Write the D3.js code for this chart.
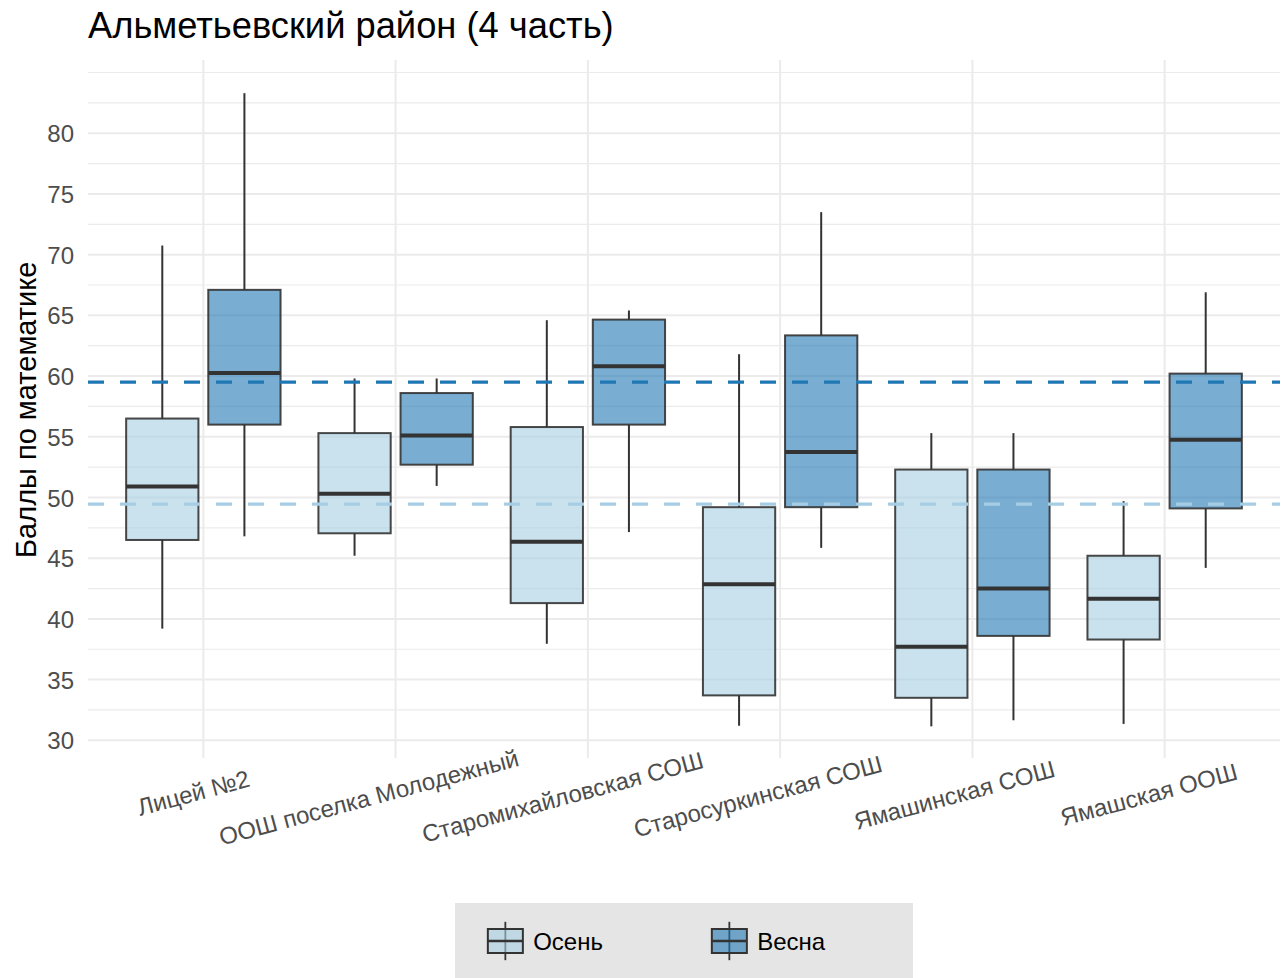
<!DOCTYPE html>
<html>
<head>
<meta charset="utf-8">
<script src="https://cdn.jsdelivr.net/npm/d3@7"></script>
<style>
  html, body { margin: 0; padding: 0; background: #ffffff; }
  svg { display: block; font-family: "Liberation Sans", Arial, sans-serif; }
</style>
</head>
<body>
<svg id="chart" width="1288" height="978"></svg>
<script>
// Schools and seasons
const schools = ["Лицей №2", "ООШ поселка Молодежный", "Старомихайловская СОШ",
                 "Старосуркинская СОШ", "Ямашинская СОШ", "Ямашская ООШ"];
const seasons = ["Осень", "Весна"];

// Box statistics per school: lower whisker, Q1, median, Q3, upper whisker
const autumnLow  = [39.2, 45.2, 37.95, 31.2, 31.15, 31.35];
const autumnQ1   = [46.5, 47.05, 41.3, 33.7, 33.5, 38.3];
const autumnMed  = [50.9, 50.3, 46.35, 42.85, 37.7, 41.65];
const autumnQ3   = [56.5, 55.3, 55.8, 49.2, 52.3, 45.2];
const autumnHigh = [70.75, 59.8, 64.6, 61.8, 55.3, 49.7];

const springLow  = [46.8, 50.95, 47.15, 45.85, 31.65, 44.2];
const springQ1   = [56.0, 52.7, 56.0, 49.2, 38.6, 49.1];
const springMed  = [60.25, 55.1, 60.8, 53.75, 42.5, 54.75];
const springQ3   = [67.1, 58.6, 64.65, 63.35, 52.3, 60.2];
const springHigh = [83.3, 59.8, 65.4, 73.5, 55.3, 66.9];

// District averages per season (dashed reference lines)
const seasonMeans = [49.45, 59.5];

// Y axis tick values
const yTicks = [30, 35, 40, 45, 50, 55, 60, 65, 70, 75, 80];

const fills = ["#a6cee3", "#1f78b4"];

const boxes = [];
schools.forEach((s, i) => {
  boxes.push({ school: s, season: seasons[0], low: autumnLow[i], q1: autumnQ1[i], med: autumnMed[i], q3: autumnQ3[i], high: autumnHigh[i] });
  boxes.push({ school: s, season: seasons[1], low: springLow[i], q1: springQ1[i], med: springMed[i], q3: springQ3[i], high: springHigh[i] });
});

const svg = d3.select("#chart");
const panel = { left: 88, right: 1280, top: 61.5, bottom: 758 };

// y domain: data range with 5% expansion on both sides
const ext = d3.extent(boxes.flatMap(b => [b.low, b.high]));
const pad = (ext[1] - ext[0]) * 0.05;
const y = d3.scaleLinear().domain([ext[0] - pad, ext[1] + pad]).range([panel.bottom, panel.top]);

const x = d3.scalePoint().domain(schools).range([panel.left, panel.right]).padding(0.6);
const step = x.step();
const inner = d3.scaleBand().domain(seasons)
  .range([-0.4015 * step, 0.4015 * step]).paddingInner(0.12).paddingOuter(0);
const color = d3.scaleOrdinal().domain(seasons).range(fills);

// Gridlines
const grid = svg.append("g");
const minorTicks = d3.range(27.5, 86, 2.5).filter(v => yTicks.indexOf(v) < 0 && y(v) >= panel.top && y(v) <= panel.bottom);
grid.selectAll("line.minor").data(minorTicks).join("line")
  .attr("x1", panel.left).attr("x2", panel.right)
  .attr("y1", d => y(d)).attr("y2", d => y(d))
  .attr("stroke", "#ebebeb").attr("stroke-width", 1.2);
grid.selectAll("line.major").data(yTicks).join("line")
  .attr("x1", panel.left).attr("x2", panel.right)
  .attr("y1", d => y(d)).attr("y2", d => y(d))
  .attr("stroke", "#ebebeb").attr("stroke-width", 2);
grid.selectAll("line.vert").data(schools).join("line")
  .attr("x1", d => x(d)).attr("x2", d => x(d))
  .attr("y1", 60).attr("y2", panel.bottom)
  .attr("stroke", "#ebebeb").attr("stroke-width", 2);

// Y axis labels
const yAxis = d3.axisLeft(y).tickValues(yTicks).tickSize(0).tickPadding(0).tickFormat(d3.format("d"));
const yg = svg.append("g").attr("transform", `translate(${panel.left - 14},0)`).call(yAxis);
yg.select(".domain").remove();
yg.selectAll("text").attr("fill", "#4d4d4d").attr("font-size", 24)
  .attr("font-family", "'Liberation Sans', Arial, sans-serif").attr("dy", "0.36em");

// Boxplots
const bg = svg.append("g");
const bw = inner.bandwidth();
const cx = d => x(d.school) + inner(d.season) + bw / 2;
const groups = bg.selectAll("g.box").data(boxes).join("g");
groups.append("line")
  .attr("x1", cx).attr("x2", cx).attr("y1", d => y(d.high)).attr("y2", d => y(d.q3))
  .attr("stroke", "#333").attr("stroke-width", 2);
groups.append("line")
  .attr("x1", cx).attr("x2", cx).attr("y1", d => y(d.q1)).attr("y2", d => y(d.low))
  .attr("stroke", "#333").attr("stroke-width", 2);
groups.append("rect")
  .attr("x", d => x(d.school) + inner(d.season)).attr("width", bw)
  .attr("y", d => y(d.q3)).attr("height", d => y(d.q1) - y(d.q3))
  .attr("fill", d => color(d.season)).attr("fill-opacity", 0.6)
  .attr("stroke", "#333").attr("stroke-opacity", 0.9).attr("stroke-width", 2);
groups.append("line")
  .attr("x1", d => x(d.school) + inner(d.season)).attr("x2", d => x(d.school) + inner(d.season) + bw)
  .attr("y1", d => y(d.med)).attr("y2", d => y(d.med))
  .attr("stroke", "#333").attr("stroke-width", 4);

// Season mean lines
svg.append("g").selectAll("line").data(seasons).join("line")
  .attr("x1", panel.left).attr("x2", panel.right)
  .attr("y1", (d, i) => y(seasonMeans[i])).attr("y2", (d, i) => y(seasonMeans[i]))
  .attr("stroke", d => color(d)).attr("stroke-width", 3.2)
  .attr("stroke-dasharray", "16,16");

// X axis labels, rotated
const xl = svg.append("g");
xl.selectAll("g").data(schools).join("g")
  .attr("transform", d => `translate(${x(d)},790) rotate(-15)`)
  .append("text")
  .text(d => d)
  .attr("fill", "#4d4d4d").attr("font-size", 24)
  .attr("dy", "0.36em")
  .each(function () {
    const w = this.getComputedTextLength();
    d3.select(this).attr("x", -0.59 * w);
  });

// Axis title
svg.append("text")
  .attr("transform", `translate(36,${(panel.top + panel.bottom) / 2}) rotate(-90)`)
  .attr("text-anchor", "middle").attr("font-size", 29).attr("fill", "#000")
  .text("Баллы по математике");

// Plot title
svg.append("text").attr("x", panel.left).attr("y", 38)
  .attr("font-size", 36.3).attr("fill", "#000")
  .text("Альметьевский район (4 часть)");

// Legend
const legend = svg.append("g");
legend.append("rect").attr("x", 455).attr("y", 903).attr("width", 458).attr("height", 90).attr("fill", "#e5e5e5");
const keyW = 46.7, keyH = 48;
const legendItems = legend.selectAll("g.item").data(seasons).join("g")
  .attr("transform", (d, i) => `translate(${[482, 706][i]},917)`);
legendItems.append("line")
  .attr("x1", keyW / 2).attr("x2", keyW / 2).attr("y1", keyH * 0.1).attr("y2", keyH * 0.9)
  .attr("stroke", "#333").attr("stroke-width", 1.8);
legendItems.append("rect")
  .attr("x", keyW * 0.125).attr("width", keyW * 0.75)
  .attr("y", keyH * 0.25).attr("height", keyH * 0.5)
  .attr("fill", d => color(d)).attr("fill-opacity", 0.6)
  .attr("stroke", "#333").attr("stroke-width", 2);
legendItems.append("line")
  .attr("x1", keyW * 0.125).attr("x2", keyW * 0.875).attr("y1", keyH * 0.5).attr("y2", keyH * 0.5)
  .attr("stroke", "#333").attr("stroke-width", 2.5);
legendItems.append("text")
  .attr("x", keyW + 4.5).attr("y", keyH / 2).attr("dy", "0.36em")
  .attr("font-size", 24).attr("fill", "#000")
  .text(d => d);
</script>
</body>
</html>
